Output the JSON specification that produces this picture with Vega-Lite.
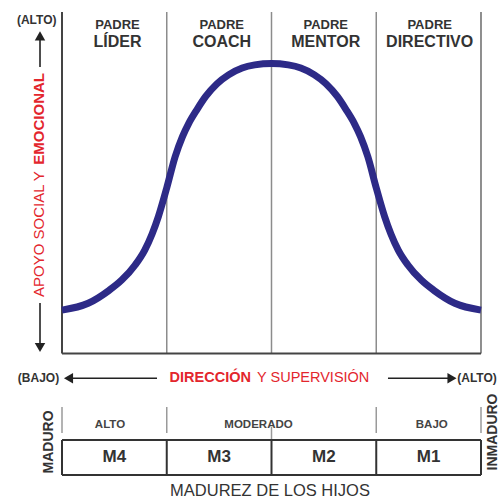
{
  "$schema": "https://vega.github.io/schema/vega-lite/v6.json",
  "width": 500,
  "height": 500,
  "autosize": {"type": "none"},
  "padding": 0,
  "background": "white",
  "config": {"view": {"stroke": null}, "font": "Liberation Sans"},
  "datasets": {
    "axisLines": [
      {"x": 0, "y": 0, "x2": 0, "y2": 10},
      {"x": 0, "y": 0, "x2": 4, "y2": 0}
    ],
    "rightLine": [{"x": 4, "y": 0, "x2": 4, "y2": 10}],
    "dividers": [
      {"x": 1, "y": 0, "x2": 1, "y2": 10},
      {"x": 2, "y": 0, "x2": 2, "y2": 10},
      {"x": 3, "y": 0, "x2": 3, "y2": 10}
    ],
    "curve": [
      {"x": 0, "y": 1.27}, {"x": 0.25, "y": 1.47}, {"x": 0.45, "y": 1.85},
      {"x": 0.57, "y": 2.15}, {"x": 0.7, "y": 2.6}, {"x": 0.79, "y": 3.03},
      {"x": 0.86, "y": 3.5}, {"x": 0.92, "y": 4.01}, {"x": 1.0, "y": 4.85},
      {"x": 1.08, "y": 5.76}, {"x": 1.15, "y": 6.35}, {"x": 1.21, "y": 6.74},
      {"x": 1.29, "y": 7.15}, {"x": 1.37, "y": 7.52}, {"x": 1.48, "y": 7.9},
      {"x": 1.59, "y": 8.16}, {"x": 1.72, "y": 8.36}, {"x": 1.84, "y": 8.45},
      {"x": 2.0, "y": 8.49}, {"x": 2.16, "y": 8.45}, {"x": 2.28, "y": 8.36},
      {"x": 2.41, "y": 8.16}, {"x": 2.52, "y": 7.9}, {"x": 2.63, "y": 7.52},
      {"x": 2.71, "y": 7.15}, {"x": 2.79, "y": 6.74}, {"x": 2.85, "y": 6.35},
      {"x": 2.92, "y": 5.76}, {"x": 3.0, "y": 4.85}, {"x": 3.08, "y": 4.01},
      {"x": 3.14, "y": 3.5}, {"x": 3.21, "y": 3.03}, {"x": 3.3, "y": 2.6},
      {"x": 3.43, "y": 2.15}, {"x": 3.55, "y": 1.85}, {"x": 3.75, "y": 1.47},
      {"x": 4.0, "y": 1.27}
    ],
    "shafts": [
      {"x": -0.21, "y": 8.39, "x2": -0.21, "y2": 9.2},
      {"x": -0.21, "y": 0.3, "x2": -0.21, "y2": 1.48},
      {"x": 0.09, "y": -0.725, "x2": 0.907, "y2": -0.725},
      {"x": 3.112, "y": -0.725, "x2": 3.69, "y2": -0.725}
    ],
    "heads": [
      {"x": -0.21, "y": 9.3, "dir": "up"},
      {"x": -0.21, "y": 0.176, "dir": "down"},
      {"x": 0.062, "y": -0.725, "dir": "left"},
      {"x": 3.723, "y": -0.725, "dir": "right"}
    ],
    "padre": [
      {"x": 0.53, "y": 9.619, "label": "PADRE"},
      {"x": 1.525, "y": 9.619, "label": "PADRE"},
      {"x": 2.518, "y": 9.619, "label": "PADRE"},
      {"x": 3.51, "y": 9.619, "label": "PADRE"}
    ],
    "styles": [
      {"x": 0.53, "y": 9.13, "label": "LÍDER"},
      {"x": 1.525, "y": 9.13, "label": "COACH"},
      {"x": 2.518, "y": 9.13, "label": "MENTOR"},
      {"x": 3.51, "y": 9.13, "label": "DIRECTIVO"}
    ],
    "ends": [
      {"x": -0.2415, "y": 9.766, "label": "(ALTO)"},
      {"x": -0.2243, "y": -0.725, "label": "(BAJO)"},
      {"x": 3.962, "y": -0.725, "label": "(ALTO)"}
    ],
    "tableTicks": [
      {"x": 0, "y": -1.567, "x2": 0, "y2": -2.328},
      {"x": 1, "y": -1.567, "x2": 1, "y2": -2.328},
      {"x": 3, "y": -1.567, "x2": 3, "y2": -2.328},
      {"x": 4, "y": -1.567, "x2": 4, "y2": -2.328},
      {"x": 2, "y": -2.152, "x2": 2, "y2": -2.533}
    ],
    "box": [
      {"x": 0, "y": -2.533, "x2": 4, "y2": -2.533},
      {"x": 0, "y": -3.558, "x2": 4, "y2": -3.558},
      {"x": 0, "y": -2.533, "x2": 0, "y2": -3.558},
      {"x": 1, "y": -2.533, "x2": 1, "y2": -3.558},
      {"x": 2, "y": -2.533, "x2": 2, "y2": -3.558},
      {"x": 3, "y": -2.533, "x2": 3, "y2": -3.558},
      {"x": 4, "y": -2.533, "x2": 4, "y2": -3.558}
    ],
    "levels": [
      {"x": 0.458, "y": -2.094, "label": "ALTO"},
      {"x": 1.876, "y": -2.094, "label": "MODERADO"},
      {"x": 3.53, "y": -2.094, "label": "BAJO"}
    ],
    "stages": [
      {"x": 0.5, "y": -3.03, "label": "M4"},
      {"x": 1.5, "y": -3.03, "label": "M3"},
      {"x": 2.5, "y": -3.03, "label": "M2"},
      {"x": 3.5, "y": -3.03, "label": "M1"}
    ],
    "sides": [
      {"x": -0.122, "y": -2.59, "label": "MADURO"},
      {"x": 4.112, "y": -2.299, "label": "INMADURO"}
    ]
  },
  "encoding": {
    "x": {"field": "x", "type": "quantitative", "scale": {"domain": [-0.5919, 4.1814], "nice": false, "zero": false}, "axis": null},
    "y": {"field": "y", "type": "quantitative", "scale": {"domain": [-4.29, 10.351], "nice": false, "zero": false}, "axis": null}
  },
  "layer": [
    {"data": {"name": "dividers"}, "mark": {"type": "rule", "stroke": "#8c8c8c", "strokeWidth": 1.5},
     "encoding": {"x2": {"field": "x2"}, "y2": {"field": "y2"}}},
    {"data": {"name": "rightLine"}, "mark": {"type": "rule", "stroke": "#6a6a6a", "strokeWidth": 1.5},
     "encoding": {"x2": {"field": "x2"}, "y2": {"field": "y2"}}},
    {"data": {"name": "axisLines"}, "mark": {"type": "rule", "stroke": "#444444", "strokeWidth": 2},
     "encoding": {"x2": {"field": "x2"}, "y2": {"field": "y2"}}},
    {"data": {"name": "curve"}, "mark": {"type": "line", "stroke": "#2d2a87", "strokeWidth": 7, "interpolate": "monotone", "strokeCap": "butt"},
     "encoding": {}},
    {"data": {"name": "shafts"}, "mark": {"type": "rule", "stroke": "#222222", "strokeWidth": 1.6},
     "encoding": {"x2": {"field": "x2"}, "y2": {"field": "y2"}}},
    {"data": {"name": "heads"}, "mark": {"type": "point", "filled": true, "fill": "#222222", "size": 110, "opacity": 1},
     "encoding": {"shape": {"field": "dir", "type": "nominal", "legend": null,
       "scale": {"domain": ["up", "down", "left", "right"], "range": ["triangle-up", "triangle-down", "triangle-left", "triangle-right"]}}}},
    {"data": {"name": "padre"}, "mark": {"type": "text", "fontSize": 13, "fontWeight": "bold", "fill": "#333333", "align": "center", "baseline": "middle"},
     "encoding": {"text": {"field": "label"}}},
    {"data": {"name": "styles"}, "mark": {"type": "text", "fontSize": 16, "fontWeight": "bold", "fill": "#333333", "align": "center", "baseline": "middle"},
     "encoding": {"text": {"field": "label"}}},
    {"data": {"name": "ends"}, "mark": {"type": "text", "fontSize": 12, "fontWeight": "bold", "fill": "#333333", "align": "center", "baseline": "middle"},
     "encoding": {"text": {"field": "label"}}},
    {"data": {"values": [{"x": -0.215, "y": 8.214, "label": "EMOCIONAL"}]},
     "mark": {"type": "text", "fontSize": 15, "fontWeight": "bold", "fill": "#e3262d", "align": "right", "baseline": "middle", "angle": 270},
     "encoding": {"text": {"field": "label"}}},
    {"data": {"values": [{"x": -0.215, "y": 1.654, "label": "APOYO SOCIAL Y"}]},
     "mark": {"type": "text", "fontSize": 15, "fontWeight": "normal", "fill": "#e3262d", "align": "left", "baseline": "middle", "angle": 270},
     "encoding": {"text": {"field": "label"}}},
    {"data": {"values": [{"x": 1.804, "y": -0.725, "label": "DIRECCIÓN"}]},
     "mark": {"type": "text", "fontSize": 14.5, "fontWeight": "bold", "fill": "#e3262d", "align": "right", "baseline": "middle"},
     "encoding": {"text": {"field": "label"}}},
    {"data": {"values": [{"x": 1.862, "y": -0.725, "label": "Y SUPERVISIÓN"}]},
     "mark": {"type": "text", "fontSize": 14.5, "fontWeight": "normal", "fill": "#e3262d", "align": "left", "baseline": "middle"},
     "encoding": {"text": {"field": "label"}}},
    {"data": {"name": "tableTicks"}, "mark": {"type": "rule", "stroke": "#9a9a9a", "strokeWidth": 1.5},
     "encoding": {"x2": {"field": "x2"}, "y2": {"field": "y2"}}},
    {"data": {"name": "box"}, "mark": {"type": "rule", "stroke": "#333333", "strokeWidth": 2},
     "encoding": {"x2": {"field": "x2"}, "y2": {"field": "y2"}}},
    {"data": {"name": "levels"}, "mark": {"type": "text", "fontSize": 11.5, "fontWeight": "bold", "fill": "#444444", "align": "center", "baseline": "middle"},
     "encoding": {"text": {"field": "label"}}},
    {"data": {"name": "stages"}, "mark": {"type": "text", "fontSize": 17, "fontWeight": "bold", "fill": "#333333", "align": "center", "baseline": "middle"},
     "encoding": {"text": {"field": "label"}}},
    {"data": {"name": "sides"}, "mark": {"type": "text", "fontSize": 14, "fontWeight": "bold", "fill": "#333333", "align": "center", "baseline": "middle", "angle": 270},
     "encoding": {"text": {"field": "label"}}},
    {"data": {"values": [{"x": 1.986, "y": -4.041, "label": "MADUREZ DE LOS HIJOS"}]},
     "mark": {"type": "text", "fontSize": 16.5, "fontWeight": "normal", "fill": "#333333", "align": "center", "baseline": "middle"},
     "encoding": {"text": {"field": "label"}}}
  ]
}
